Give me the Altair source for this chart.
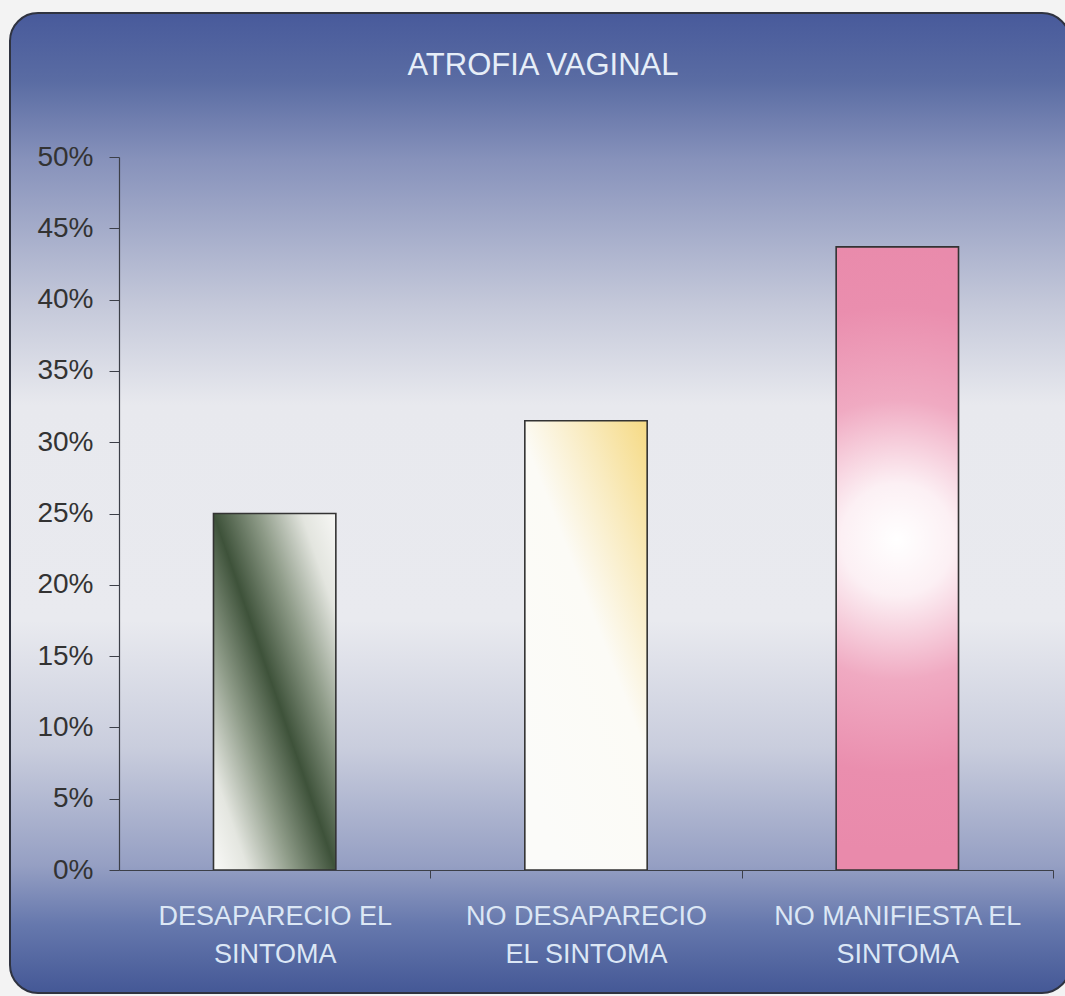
import altair as alt
import pandas as pd

# Survey result: vaginal atrophy symptom outcome
categories = [
    "DESAPARECIO EL\nSINTOMA",
    "NO DESAPARECIO\nEL SINTOMA",
    "NO MANIFIESTA EL\nSINTOMA",
]
shares = [0.25, 0.315, 0.437]
y_ticks = [0.0, 0.05, 0.10, 0.15, 0.20, 0.25, 0.30, 0.35, 0.40, 0.45, 0.50]
chart_title = "ATROFIA VAGINAL"

FONT = "Liberation Sans"
PLOT_W, PLOT_H = 934, 713
HALF_STEP = PLOT_W / len(categories) / 2  # x ticks sit between categories

df = pd.DataFrame({"categoria": categories, "porcentaje": shares})

# Panel fill: blue at the edges, almost white through the middle
panel_gradient = {
    "gradient": "linear",
    "x1": 0, "y1": 0, "x2": 0, "y2": 1,
    "stops": [
        {"offset": 0.00, "color": "#485a9b"},
        {"offset": 0.07, "color": "#5a6ca3"},
        {"offset": 0.15, "color": "#8792bb"},
        {"offset": 0.30, "color": "#c5c9da"},
        {"offset": 0.40, "color": "#e8e9ee"},
        {"offset": 0.62, "color": "#e9eaef"},
        {"offset": 0.75, "color": "#c9cddd"},
        {"offset": 0.87, "color": "#959fc3"},
        {"offset": 0.93, "color": "#6678ad"},
        {"offset": 1.00, "color": "#445896"},
    ],
}

panel = alt.Chart(alt.Data(values=[{}])).mark_rect(
    fill=panel_gradient, stroke="#2f3340", strokeWidth=2, cornerRadius=28
).encode(
    x=alt.value(-109), x2=alt.value(951),
    y=alt.value(-144), y2=alt.value(836),
)

title_text = alt.Chart(alt.Data(values=[{}])).mark_text(
    text=chart_title, font=FONT, fontSize=31, color="#e6eef8",
    align="center", baseline="middle",
).encode(x=alt.value(424), y=alt.value(-91))

bar_fills = [
    {   # dark green diagonal streak
        "gradient": "linear",
        "x1": 1, "y1": 0, "x2": 0, "y2": 1,
        "stops": [
            {"offset": 0.00, "color": "#f7f7f5"},
            {"offset": 0.14, "color": "#e3e5df"},
            {"offset": 0.32, "color": "#8e9b88"},
            {"offset": 0.50, "color": "#3e523a"},
            {"offset": 0.68, "color": "#8f9c89"},
            {"offset": 0.86, "color": "#e4e6e0"},
            {"offset": 1.00, "color": "#f9f9f7"},
        ],
    },
    {   # white fading to pale yellow at the upper right
        "gradient": "linear",
        "x1": 0.3, "y1": 1, "x2": 1, "y2": 0,
        "stops": [
            {"offset": 0.00, "color": "#fbfbf9"},
            {"offset": 0.50, "color": "#fcfbf6"},
            {"offset": 0.75, "color": "#f9ebbf"},
            {"offset": 1.00, "color": "#f6da84"},
        ],
    },
    {   # pink with a soft white core
        "gradient": "radial",
        "x1": 0.5, "y1": 0.47, "r1": 0,
        "x2": 0.5, "y2": 0.47, "r2": 0.5,
        "stops": [
            {"offset": 0.00, "color": "#ffffff"},
            {"offset": 0.18, "color": "#fcf0f4"},
            {"offset": 0.45, "color": "#f0aac2"},
            {"offset": 0.75, "color": "#ea8eae"},
            {"offset": 1.00, "color": "#e98aab"},
        ],
    },
]

x_enc = alt.X(
    "categoria:N",
    sort=categories,
    scale=alt.Scale(domain=categories, paddingInner=0.607, paddingOuter=0.3035),
    axis=alt.Axis(
        title=None,
        labelAngle=0,
        labelExpr="split(datum.label, '\\n')",
        labelFont=FONT,
        labelFontSize=27,
        labelColor="#dce7f5",
        labelLineHeight=38,
        labelPadding=25,
        labelLimit=400,
        labelBaseline="top",
        tickOffset=HALF_STEP,
        labelOffset=-HALF_STEP,
        tickSize=8,
        tickColor="#3c3f48",
        domainColor="#3c3f48",
        domainWidth=1.2,
        grid=False,
        zindex=2,
    ),
)

y_enc = alt.Y(
    "porcentaje:Q",
    scale=alt.Scale(domain=[0, 0.5], nice=False),
    axis=alt.Axis(
        title=None,
        values=y_ticks,
        format=".0%",
        labelFont=FONT,
        labelFontSize=28,
        labelColor="#333333",
        labelPadding=16,
        tickSize=10,
        tickColor="#3c3f48",
        domainColor="#3c3f48",
        domainWidth=1.2,
        grid=False,
        zindex=2,
    ),
)

bar_layers = []
for cat, fill in zip(categories, bar_fills):
    bar_layers.append(
        alt.Chart(df)
        .transform_filter(alt.datum.categoria == cat)
        .mark_bar(fill=fill, stroke="#333333", strokeWidth=1.6)
        .encode(x=x_enc, y=y_enc)
    )

chart = (
    alt.layer(panel, title_text, *bar_layers)
    .properties(
        width=PLOT_W,
        height=PLOT_H,
        autosize=alt.AutoSizeParams(type="none"),
        padding={"left": 119, "top": 157, "right": 12, "bottom": 126},
        background="#f3f3f3",
    )
    .configure_view(strokeWidth=0)
)

chart.save("out.html", embed_options={"renderer": "svg", "actions": False})
